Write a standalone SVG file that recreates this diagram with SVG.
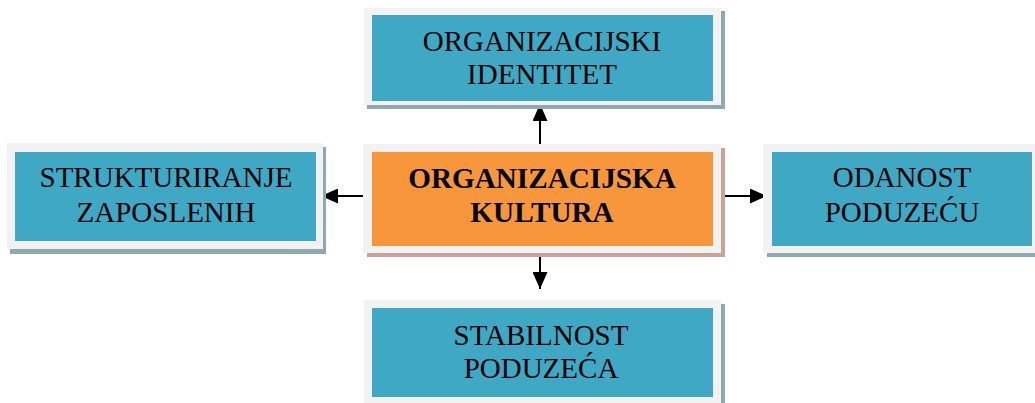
<svg xmlns="http://www.w3.org/2000/svg" width="1035" height="403" viewBox="0 0 1035 403">
<style>
.frame{fill:#f2f2f2}
.sb{fill:#8ea9b1}
.so{fill:#c9a396}
.blue{fill:#3fa9c5}
.orange{fill:#f7963a}
.t{font-family:"Liberation Serif","Times New Roman",serif;font-size:29px;fill:#000;text-anchor:middle}
.b{font-weight:bold;font-size:29.2px}
.c{stroke:#000;stroke-width:2;fill:none}
</style>
<defs>
<marker id="ah" viewBox="0 0 17 15" refX="17" refY="7.5" markerWidth="17" markerHeight="15" markerUnits="userSpaceOnUse" orient="auto">
<path d="M0,0 L17,7.5 L0,15 Z" fill="#000"/>
</marker>
</defs>
<rect width="1035" height="403" fill="#fff"/>
<g id="connectors">
<line class="c" x1="540" y1="144" x2="540" y2="104" marker-end="url(#ah)"/>
<line class="c" x1="363" y1="196" x2="321" y2="196" marker-end="url(#ah)"/>
<line class="c" x1="721" y1="196" x2="767" y2="196" marker-end="url(#ah)"/>
<line class="c" x1="540" y1="253" x2="540" y2="289" marker-end="url(#ah)"/>
</g>
<g id="n_identitet">
<rect class="sb" x="367" y="11" width="358" height="98"/>
<rect class="frame" x="364" y="8" width="357" height="97"/>
<rect class="blue" x="372" y="15" width="341" height="86"/>
<text class="t" x="542" y="51">ORGANIZACIJSKI</text>
<text class="t" x="542" y="84">IDENTITET</text>
</g>
<g id="n_kultura">
<rect class="so" x="367" y="148" width="358" height="109"/>
<rect class="frame" x="363" y="144" width="358" height="109"/>
<rect class="orange" x="372" y="152" width="341" height="94"/>
<text class="t b" x="542" y="188">ORGANIZACIJSKA</text>
<text class="t b" x="542" y="222">KULTURA</text>
</g>
<g id="n_strukturiranje">
<rect class="sb" x="10" y="147" width="316" height="107"/>
<rect class="frame" x="7" y="143" width="316" height="106"/>
<rect class="blue" x="15" y="152" width="301" height="89"/>
<text class="t" x="166" y="187">STRUKTURIRANJE</text>
<text class="t" x="166" y="222">ZAPOSLENIH</text>
</g>
<g id="n_odanost">
<rect class="sb" x="767" y="148" width="272" height="109"/>
<rect class="frame" x="763" y="144" width="272" height="109"/>
<rect class="blue" x="772" y="152" width="260" height="94"/>
<text class="t" x="902" y="187">ODANOST</text>
<text class="t" x="902" y="222">PODUZEĆU</text>
</g>
<g id="n_stabilnost">
<rect class="sb" x="367" y="304" width="358" height="103"/>
<rect class="frame" x="364" y="300" width="357" height="103"/>
<rect class="blue" x="372" y="308" width="341" height="89"/>
<text class="t" x="541" y="345">STABILNOST</text>
<text class="t" x="541" y="378">PODUZEĆA</text>
</g>
</svg>
